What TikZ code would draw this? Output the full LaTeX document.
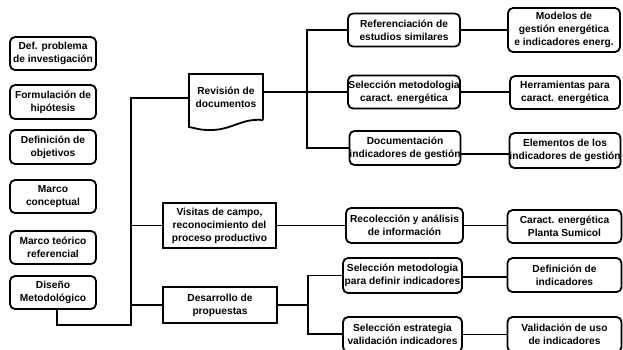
\documentclass[tikz,border=0pt]{standalone}
\usepackage{fontspec}
\setmainfont{Liberation Sans}
\begin{document}
\begin{tikzpicture}[x=1pt,y=-1pt,
  lw/.style={line width=1.8pt},
  rbox/.style={lw,draw=black,rounded corners=5pt,align=center,inner sep=0pt,
    font=\bfseries\fontsize{10.2}{13}\selectfont},
  sbox/.style={lw,draw=black,align=center,inner sep=0pt,
    font=\bfseries\fontsize{10.2}{13}\selectfont},
  conn/.style={lw,draw=black}]
\useasboundingbox (0,0) rectangle (623,349);
% left column
\node[rbox,minimum width=86pt,minimum height=33pt] (b1) at (53,53.5) {Def. problema\\de investigación};
\node[rbox,minimum width=86pt,minimum height=34pt] (b2) at (53,102) {Formulación de\\hipótesis};
\node[rbox,minimum width=86pt,minimum height=34pt] (b3) at (53,147) {Definición de\\objetivos};
\node[rbox,minimum width=86pt,minimum height=33pt] (b4) at (53,196.5) {Marco\\conceptual};
\node[rbox,minimum width=86pt,minimum height=33pt] (b5) at (53,247.5) {Marco teórico\\referencial};
\node[rbox,minimum width=86pt,minimum height=33pt] (b6) at (53,292.5) {Diseño\\Metodológico};
% middle column
\node[font=\bfseries\fontsize{10.2}{13}\selectfont,align=center,inner sep=0pt,
  minimum width=74pt,minimum height=46pt] (rev) at (226,97) {Revisión de\\documentos};
\draw[lw,line join=miter] (263,120) -- (263,74) -- (189,74) -- (189,127)
  .. controls (195,128) and (200,130) .. (207,130)
  .. controls (232,131) and (240,118) .. (263,120);
\node[sbox,minimum width=113pt,minimum height=45pt] (vis) at (219.5,225.5) {Visitas de campo,\\reconocimiento del\\proceso productivo};
\node[sbox,minimum width=114pt,minimum height=36pt] (des) at (220,305) {Desarrollo de\\propuestas};
% column 3
\node[rbox,minimum width=112pt,minimum height=33pt] (ref) at (404,30) {Referenciación de\\estudios similares};
\node[rbox,minimum width=112pt,minimum height=33pt] (selc) at (404,92) {Selección metodologia\\caract. energética};
\node[rbox,minimum width=110pt,minimum height=34pt] (doc) at (405,148) {Documentación\\indicadores de gestión};
\node[rbox,minimum width=117pt,minimum height=35pt] (rec) at (404.5,225.5) {Recolección y análisis\\de información};
\node[rbox,minimum width=119pt,minimum height=35pt] (sm) at (402.5,275.5) {Selección metodologia\\para definir indicadores};
\node[rbox,minimum width=119pt,minimum height=35pt] (se) at (402.5,334.5) {Selección estrategia\\validación indicadores};
% column 4
\node[rbox,minimum width=112pt,minimum height=44pt] (mod) at (564,30) {Modelos de\\gestión energética\\e indicadores energ.};
\node[rbox,minimum width=110pt,minimum height=33pt] (her) at (565,92.5) {Herramientas para\\caract. energética};
\node[rbox,minimum width=110pt,minimum height=35pt] (ele) at (565,150.5) {Elementos de los\\indicadores de gestión};
\node[rbox,minimum width=114pt,minimum height=33pt] (car) at (564.5,226.5) {Caract. energética\\Planta Sumicol};
\node[rbox,minimum width=114pt,minimum height=34pt] (def) at (564.5,275) {Definición de\\indicadores};
\node[rbox,minimum width=114pt,minimum height=35pt] (val) at (564.5,334.5) {Validación de uso\\de indicadores};
% trunk coordinates
\coordinate (t1top) at (131,98);
\coordinate (t1bot) at (131,325);
\coordinate (t2top) at (307,30);
\coordinate (t2bot) at (307,148);
\coordinate (t3top) at (308,275.5);
\coordinate (t3bot) at (308,334);
\coordinate (revout) at (263,92);
\coordinate (docout) at ([yshift=-6pt]doc.east);
\coordinate (smout) at ([yshift=-1.5pt]sm.east);
% connectors
\draw[conn,line join=miter] ([xshift=4pt]b6.south) |- (t1bot) -- (t1top) -- (rev.west |- t1top);
\draw[conn] (t1top |- vis.west) -- (vis.west);
\draw[conn] (t1top |- des.west) -- (des.west);
\draw[conn] (revout) -- (t2top |- revout);
\draw[conn,line join=miter] (ref.west) -| (t2top) -- (t2bot) -- (doc.west);
\draw[conn] (t2top |- selc.west) -- (selc.west);
\draw[conn] (vis.east) -- (rec.west);
\draw[conn] (des.east) -- (t3top |- des.east);
\draw[conn,line join=miter] (sm.west) -| (t3top) -- (t3bot) -- (se.west |- t3bot);
\draw[conn] (ref.east) -- (mod.west |- ref.east);
\draw[conn] (selc.east) -- (her.west |- selc.east);
\draw[conn] (docout) -- (ele.west |- docout);
\draw[conn] (rec.east) -- (car.west |- rec.east);
\draw[conn] (smout) -- (def.west |- smout);
\draw[conn] (se.east) -- (val.west |- se.east);
\end{tikzpicture}
\end{document}
